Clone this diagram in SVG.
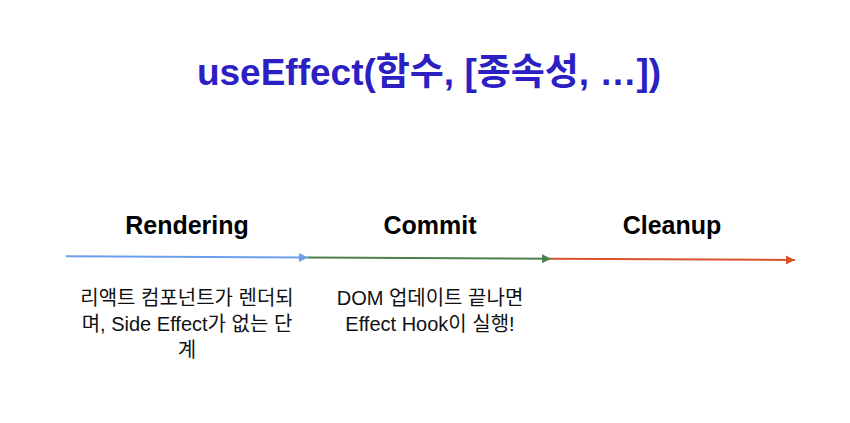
<svg xmlns="http://www.w3.org/2000/svg" width="850" height="423" viewBox="0 0 850 423">
<style>
.title{font-family:"Liberation Sans","Noto Sans CJK KR",sans-serif;font-weight:bold;font-size:37px;fill:#2c1fc4;text-anchor:middle}
.head{font-family:"Liberation Sans","Noto Sans CJK KR",sans-serif;font-weight:bold;font-size:25px;fill:#000;text-anchor:middle}
.body{font-family:"Liberation Sans","Noto Sans CJK KR",sans-serif;font-size:20px;fill:#111;text-anchor:middle}
.ln{stroke-width:2;fill:none}
</style>
<defs>
<marker id="ab" viewBox="0 0 10 10" refX="10" refY="5" markerWidth="4.5" markerHeight="4.5" orient="auto" markerUnits="strokeWidth"><path d="M0,0L10,5L0,10z" fill="#6d9eeb"/></marker>
<marker id="ag" viewBox="0 0 10 10" refX="10" refY="5" markerWidth="4.5" markerHeight="4.5" orient="auto" markerUnits="strokeWidth"><path d="M0,0L10,5L0,10z" fill="#4e7d4e"/></marker>
<marker id="ao" viewBox="0 0 10 10" refX="10" refY="5" markerWidth="4.5" markerHeight="4.5" orient="auto" markerUnits="strokeWidth"><path d="M0,0L10,5L0,10z" fill="#d9532c"/></marker>
</defs>
<rect width="850" height="423" fill="#fff"/>
<text class="title" x="429" y="85">useEffect(함수, [종속성, …])</text>
<g id="connectors">
<line class="ln" x1="66" y1="256.3" x2="308" y2="257.5" stroke="#6d9eeb" marker-end="url(#ab)"/>
<line class="ln" x1="308" y1="257.5" x2="551" y2="258.7" stroke="#4e7d4e" marker-end="url(#ag)"/>
<line class="ln" x1="551" y1="258.7" x2="795" y2="260" stroke="#d9532c" marker-end="url(#ao)"/>
</g>
<g id="rendering">
<text class="head" x="187" y="234">Rendering</text>
<text class="body" x="187" y="305">리액트 컴포넌트가 렌더되</text>
<text class="body" x="187" y="331">며, Side Effect가 없는 단</text>
<text class="body" x="187" y="357">계</text>
</g>
<g id="commit">
<text class="head" x="430" y="234">Commit</text>
<text class="body" x="430" y="305">DOM 업데이트 끝나면</text>
<text class="body" x="430" y="331">Effect Hook이 실행!</text>
</g>
<g id="cleanup">
<text class="head" x="672" y="234">Cleanup</text>
</g>
</svg>
